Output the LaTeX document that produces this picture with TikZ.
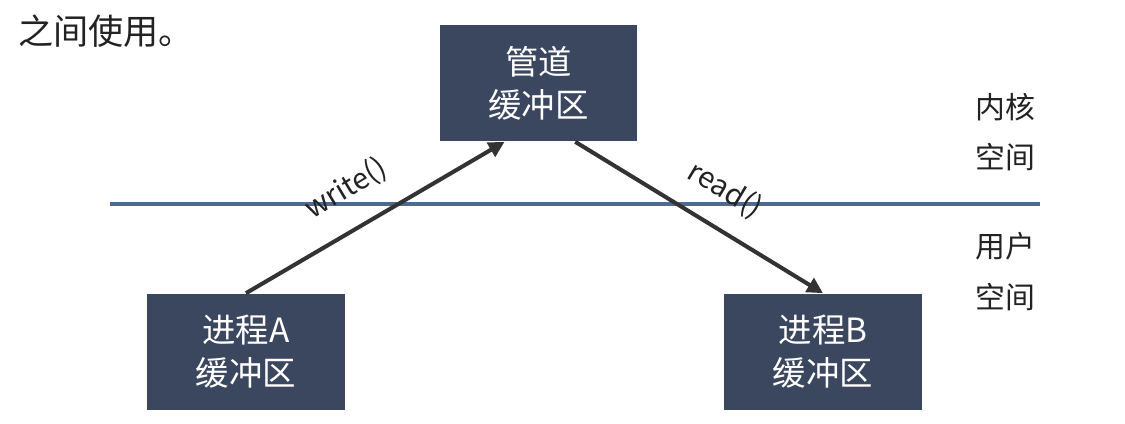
\documentclass[tikz,border=0pt]{standalone}
\usepackage{fontspec}
\setmainfont{Noto Sans CJK SC}
\usetikzlibrary{arrows.meta}
\definecolor{PipeBoxFill}{HTML}{3B465F}
\definecolor{PipeBorderLine}{HTML}{4F6A8F}
\definecolor{PipeArrow}{HTML}{333333}
\definecolor{PipeText}{HTML}{222222}

\tikzset{
  bufbox/.style={fill=PipeBoxFill,text=white,minimum width=3.96cm,minimum height=2.34cm,
        align=center,font=\fontsize{19}{24.5}\selectfont},
  flow/.style={draw=PipeArrow,line width=2.3pt,-{Triangle[length=9pt,width=9pt]}},
  sidetext/.style={text=PipeText,font=\fontsize{17}{20}\selectfont},
  calltext/.style={text=PipeText,font=\fontsize{16.5}{18}\selectfont}
}

\begin{document}
\begin{tikzpicture}[x=0.02cm,y=-0.02cm]
  \path[use as bounding box,fill=white] (0,0) rectangle (1125,423);

  \node[text=PipeText,anchor=west,font=\fontsize{20}{22}\selectfont] (intro) at (12,31) {之间使用。};

  % kernel / user border
  \draw[PipeBorderLine,line width=2.2pt] (110,204) coordinate (lineL) -- (1040,204) coordinate (lineR);

  \node[bufbox] (pipe) at (538.5,83) {管道\\缓冲区};
  \node[bufbox] (procA) at (246,352) {进程A\\缓冲区};
  \node[bufbox] (procB) at (823,352) {进程B\\缓冲区};

  \node[sidetext] (kernA) at (1005,107) {内核};
  \node[sidetext] (kernB) at (1005,157) {空间};
  \node[sidetext] (userA) at (1005,246) {用户};
  \node[sidetext] (userB) at (1005,297) {空间};

  \draw[flow] (procA.north) -- (pipe.240);
  \draw[flow] (pipe.302) -- (procB.north);

  \node[calltext,rotate=31] (wr) at (346,189) {write()};
  \node[calltext,rotate=-31] (rd) at (725,190) {read()};
\end{tikzpicture}
\end{document}
